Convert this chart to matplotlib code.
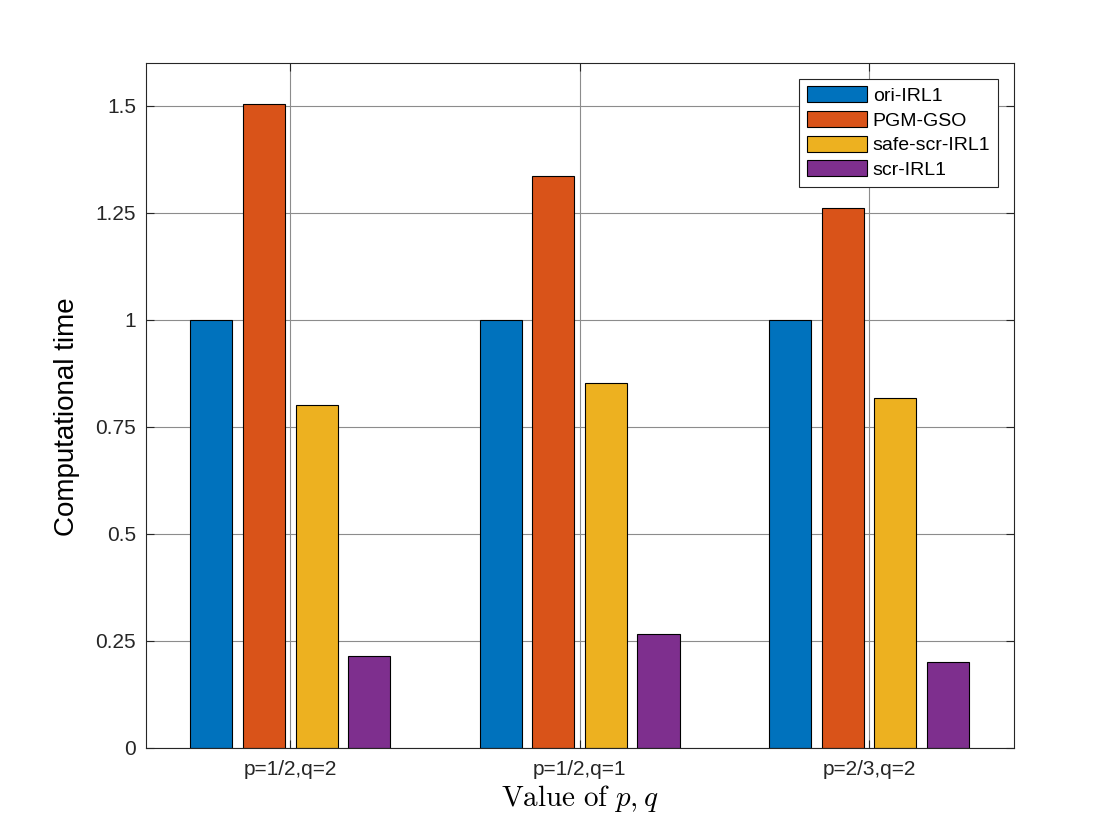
import numpy as np
import matplotlib
matplotlib.use('Agg')
from matplotlib import pyplot as plt

# data
groups = ['p=1/2,q=2', 'p=1/2,q=1', 'p=2/3,q=2']
methods = ['ori-IRL1', 'PGM-GSO', 'safe-scr-IRL1', 'scr-IRL1']
ori_irl1 = [1.0, 1.0, 1.0]
pgm_gso = [1.505, 1.336, 1.260]
safe_scr_irl1 = [0.800, 0.853, 0.818]
scr_irl1 = [0.213, 0.266, 0.200]
yticks = [0, 0.25, 0.5, 0.75, 1, 1.25, 1.5]
ytick_labels = ['0', '0.25', '0.5', '0.75', '1', '1.25', '1.5']

# matlab default colour order
bar_colors = ['#0072BD', '#D95319', '#EDB120', '#7E2F8E']

plt.rcParams['font.family'] = ['Liberation Sans', 'DejaVu Sans']
plt.rcParams['mathtext.fontset'] = 'cm'

fig = plt.figure(figsize=(11.2, 8.4), dpi=100)
ax = fig.add_axes([0.13, 0.11, 0.775, 0.815])

# grouped bars, matlab style geometry
series = [ori_irl1, pgm_gso, safe_scr_irl1, scr_irl1]
n = len(series)
group_width = min(0.8, n / (n + 1.5))
x = np.arange(1, len(groups) + 1)
for i, (vals, col, lab) in enumerate(zip(series, bar_colors, methods)):
    offset = (i - (n - 1) / 2) * group_width / n
    ax.bar(x + offset, vals, width=group_width / n * 0.8, color=col,
           edgecolor='black', linewidth=0.8, label=lab, zorder=2)

ax.set_xlim(0.5, 3.5)
ax.set_ylim(0, 1.6)
ax.set_xticks(x)
ax.set_xticklabels(groups, fontsize=15)
ax.set_yticks(yticks)
ax.set_yticklabels(ytick_labels, fontsize=15)

ax.set_axisbelow(True)
ax.grid(True, color='#8c8c8c', linewidth=0.8)
ax.tick_params(direction='in', length=6, width=0.8, top=True, right=True,
               colors='#262626', labelcolor='#262626')
ax.tick_params(axis='x', pad=9)
ax.tick_params(axis='y', pad=7)
for sp in ax.spines.values():
    sp.set_color('#262626')
    sp.set_linewidth(0.8)

ax.set_ylabel('Computational time', fontsize=20)
ax.yaxis.set_label_coords(-0.075, 0.484)
ax.set_xlabel(r'$\mathrm{Value\ of\ }p,q$', fontsize=21, labelpad=3)

leg = ax.legend(loc='upper right', fontsize=14, fancybox=False, framealpha=1,
                edgecolor='#262626', handlelength=3.1, handleheight=0.9,
                labelspacing=0.3, borderpad=0.4, handletextpad=0.3,
                borderaxespad=0.8)
leg.get_frame().set_linewidth(0.8)

fig.savefig('out.png', dpi=100)
